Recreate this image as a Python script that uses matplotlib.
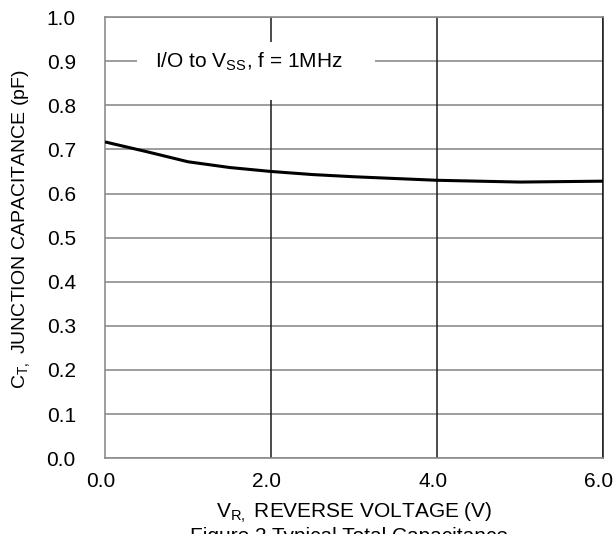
import numpy as np
import matplotlib.pyplot as plt
import matplotlib.transforms as mtransforms
from matplotlib.patches import Rectangle

plt.rcParams['font.family'] = ['Liberation Sans', 'DejaVu Sans']

# Reverse voltage (V) vs junction capacitance (pF)
vr = [0.0, 0.5, 1.0, 1.5, 2.0, 2.5, 3.0, 3.5, 4.0, 4.5, 5.0, 5.5, 6.0]
ct = [0.717, 0.695, 0.672, 0.659, 0.650, 0.643, 0.638, 0.634, 0.630, 0.628, 0.626, 0.627, 0.628]

xticks = [0.0, 2.0, 4.0, 6.0]
yticks = [0.0, 0.1, 0.2, 0.3, 0.4, 0.5, 0.6, 0.7, 0.8, 0.9, 1.0]

fig = plt.figure(figsize=(6.14, 5.34), dpi=100)
ax = fig.add_axes([0.171, 0.142, 0.811, 0.826])

# light horizontal grid
for y in yticks:
    ax.axhline(y, color='#8c8c8c', lw=1.2, zorder=1)
# dark vertical lines at the major x ticks
for x in xticks[1:]:
    ax.axvline(x, color='#1a1a1a', lw=1.1, zorder=1)

ax.plot(vr, ct, color='black', lw=2.2, zorder=3, solid_capstyle='butt')

# white label box that blanks the grid behind the condition text
ax.add_patch(Rectangle((0.39, 0.812), 2.86, 0.131, facecolor='white',
                       edgecolor='none', zorder=2))
ax.text(0.60, 0.898, 'I/O to V$_{\\mathregular{SS}}$, f = 1MHz', fontsize=15,
        va='center', ha='left', zorder=4)

ax.set_xlim(0, 6)
ax.set_ylim(0, 1)
ax.set_xticks(xticks)
ax.set_xticklabels([f'{v:.1f}' for v in xticks], fontsize=15)
ax.set_yticks(yticks)
ax.set_yticklabels([f'{v:.1f}' for v in yticks], fontsize=15)
ax.tick_params(length=0)
ax.tick_params(axis='x', pad=10)
ax.tick_params(axis='y', pad=21)

# x tick labels sit a few pixels left of their lines in the original
shift = mtransforms.ScaledTranslation(-4 / 100, 0, fig.dpi_scale_trans)
for lbl in ax.get_xticklabels():
    lbl.set_transform(lbl.get_transform() + shift)

for side in ['left', 'bottom', 'top']:
    ax.spines[side].set_color('#8c8c8c')
    ax.spines[side].set_linewidth(1.2)
ax.spines['right'].set_color('#1a1a1a')
ax.spines['right'].set_linewidth(1.1)

ax.set_xlabel('V$_{\\mathregular{R,}}$ REVERSE VOLTAGE (V)', fontsize=15, labelpad=7)
ax.set_ylabel('C$_{\\mathregular{T,}}$ JUNCTION CAPACITANCE (pF)', fontsize=14, labelpad=11)
ax.yaxis.set_label_coords(-0.145, 0.52)

fig.text(190 / 614, 1 - 527 / 534, 'Figure 2 Typical Total Capacitance', fontsize=15,
         ha='left', va='top')

fig.savefig('out.png', dpi=100)
